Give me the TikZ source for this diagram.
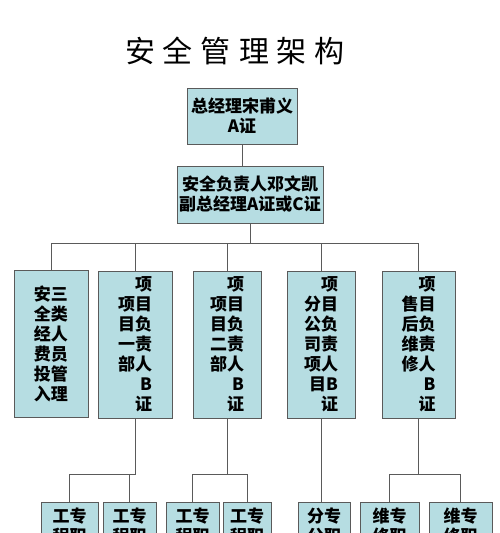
\documentclass[tikz,border=0pt]{standalone}
\usepackage{fontspec}
\setmainfont{Noto Sans CJK SC}
\definecolor{boxfill}{HTML}{B6DDE2}
\definecolor{boxline}{HTML}{5A5A5A}
\tikzset{
  box/.style={draw=boxline, fill=boxfill, line width=1pt, inner sep=0pt,
    align=center, font=\fontsize{17}{20}\selectfont\bfseries},
  dept/.style={box, minimum height=147pt},
  staff/.style={box, anchor=north, inner ysep=5pt},
  link/.style={draw=boxline, line width=1pt},
}
\begin{document}
\begin{tikzpicture}[x=1pt,y=-1pt]
\useasboundingbox (0,0) rectangle (500,533);
\clip (0,0) rectangle (500,533);
% title
\node (title) at (235,51) {\fontsize{30}{30}\selectfont 安\hspace{8pt}全\hspace{8pt}管\hspace{8pt}理\hspace{8pt}架\hspace{8pt}构};
% top two levels
\node[box, minimum width=110pt, minimum height=56pt] (gm) at (242,116) {总经理宋甫义\\A证};
\node[box, minimum width=146pt, minimum height=57pt] (safety) at (250,194.5) {安全负责人邓文凯\\副总经理A证或C证};
% departments
\node[dept, minimum width=74pt] (anquan) at (51,343.5) {安三\\全类\\经人\\费员\\投管\\入理};
\node[dept, minimum width=74pt, align=right] (xm1) at (135,344.5) {项\\项目\\目负\\一责\\部人\\B\\证};
\node[dept, minimum width=68pt, align=right] (xm2) at (227,344.5) {项\\项目\\目负\\二责\\部人\\B\\证};
\node[dept, minimum width=68pt, align=right] (fgs) at (321,344.5) {项\\分目\\公负\\司责\\项人\\目B\\证};
\node[dept, minimum width=73pt, align=right] (sh) at (418.5,344.5) {项\\售目\\后负\\维责\\修人\\B\\证};
% staff
\node[staff, minimum width=57pt] (gc1) at (69.5,502) {工专\\程职};
\node[staff, minimum width=53pt] (gc2) at (129.5,502) {工专\\程职};
\node[staff, minimum width=53pt] (gc3) at (192.5,502) {工专\\程职};
\node[staff, minimum width=48pt] (gc4) at (247,502) {工专\\程职};
\node[staff, minimum width=52pt] (fgc) at (324,502) {分专\\公职};
\node[staff, minimum width=59pt] (wx1) at (389.5,502) {维专\\修职};
\node[staff, minimum width=63pt] (wx2) at (460.5,502) {维专\\修职};
% connectors
\draw[link] (gm.south) -- (gm.south |- safety.north);
\draw[link] (safety.south) -- ++(0,20) -| (anquan.north);
\draw[link] (safety.south) -- ++(0,20) -| (xm1.north);
\draw[link] (safety.south) -- ++(0,20) -| (xm2.north);
\draw[link] (safety.south) -- ++(0,20) -| (fgs.north);
\draw[link] (safety.south) -- ++(0,20) -| (sh.north);
\draw[link] (xm1.south) -- ++(0,56) -| (gc1.north);
\draw[link] (xm1.south) -- ++(0,56) -| (gc2.north);
\draw[link] (xm2.south) -- ++(0,56) -| (gc3.north);
\draw[link] (xm2.south) -- ++(0,56) -| (gc4.north);
\draw[link] (fgs.south) -- (fgs.south |- fgc.north);
\draw[link] (sh.south) -- ++(0,56) -| (wx1.north);
\draw[link] (sh.south) -- ++(0,56) -| (wx2.north);
\end{tikzpicture}
\end{document}
